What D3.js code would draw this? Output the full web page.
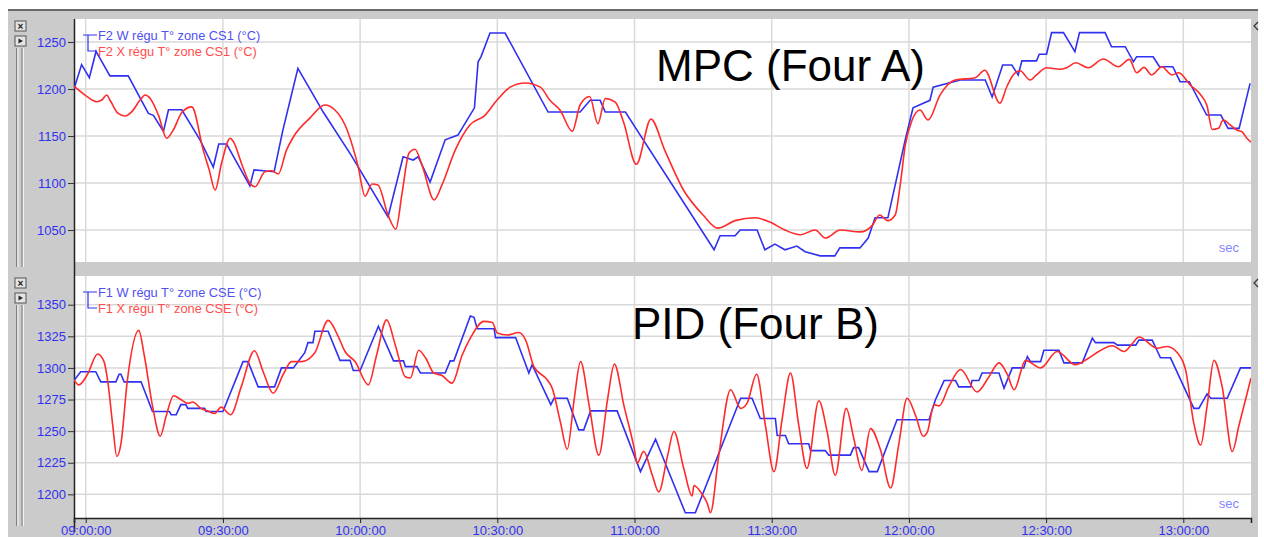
<!DOCTYPE html>
<html>
<head>
<meta charset="utf-8">
<script src="https://cdn.jsdelivr.net/npm/d3@7"></script>
<style>
  body { margin: 0; background: #fff; }
  svg { display: block; font-family: "Liberation Sans", Arial, sans-serif; }
</style>
</head>
<body>
<svg id="chart" width="1264" height="537"></svg>
<script>
// values are [minutes after 09:00, temperature °C]

// MPC (Four A) - setpoint W and measure X
var mpcW = [[-2.56,1200],[-0.9,1226],[0.8,1212],[2.25,1240],[5.3,1214],[9.3,1214],[13.7,1174],[14.8,1172],
  [17.0,1155],[18.1,1178],[21.0,1178],[25.0,1146],[27.9,1117],[29.1,1141.5],[30.8,1141.5],[35.9,1097],
  [36.8,1114],[41.2,1112],[43.1,1156],[46.4,1222],[52,1175],[58,1130],[66.1,1064],[69.4,1128],[71.6,1124.5],
  [72.7,1128],[75.3,1101],[78.6,1146],[81.4,1151],[85.0,1180],[85.8,1229],[86.4,1234],[88.4,1259.6],
  [91.7,1259.6],[101.1,1175.5],[108.1,1175.5],[110.3,1188],[112.5,1188],[113.6,1175.5],[118.0,1175.5],
  [137.4,1029],[138.7,1044],[142.0,1044],[143.1,1050],[146.8,1050],[148.5,1029],[150.7,1035],[152.9,1029],
  [155.5,1033],[157.3,1027],[160.6,1022.5],[163.8,1022.5],[164.9,1031],[169.3,1031],[171.1,1041.5],
  [172.6,1063],[175.4,1063],[179.2,1146],[180.9,1180],[184.6,1188],[185.3,1202],[191.2,1209.6],
  [196.7,1209.6],[198.2,1191.5],[200.5,1225.5],[202.5,1225.5],[203.9,1215],[204.7,1230],[207.9,1230],
  [208.5,1237],[210.1,1237],[211.2,1260],[213.8,1260],[216.3,1239.7],[217.3,1260],[222.9,1260],[224.3,1245],
  [227.3,1245],[229.1,1229],[229.8,1234.4],[233.4,1234.4],[234.8,1223.7],[237.7,1223.7],[239.3,1207.8],
  [241.3,1207.8],[245.1,1172.3],[248.2,1172.3],[249.8,1158.2],[252.2,1158.2],[254.6,1206]];

var mpcX = [[-2.56,1203],[-0.15,1193.6],[2.4,1186.5],[3.5,1188.3],[4.6,1193.6],[5.3,1188.3],[7.1,1174],
  [8.6,1171.3],[10.1,1176],[11.9,1188.3],[13.0,1193.6],[14.1,1190],[15.9,1172.3],[17.7,1147.6],[19.1,1156],
  [21.1,1175.5],[23.2,1181],[25.7,1135],[27.0,1114],[28.3,1092.6],[29.7,1121],[31.6,1147.6],[32.3,1144],
  [34.2,1119],[35.9,1099.7],[37.0,1096],[39.2,1112],[40.7,1113],[42.1,1109.6],[43.9,1135],[45.4,1149],
  [49.0,1169],[52.3,1183],[54.5,1177.7],[56.7,1161.7],[59.5,1119],[61.1,1086],[62.6,1099],[63.9,1098],
  [66.1,1066],[67.8,1051],[69.2,1090],[70.7,1132],[72.0,1136],[73.6,1118],[76.2,1082],[77.9,1098],
  [80.8,1135],[84.0,1161.7],[87.3,1172],[89.9,1188],[92.8,1202],[96.1,1206.4],[99.4,1202],[101.5,1188],
  [103.7,1177.7],[106.4,1155],[108.1,1183],[110.2,1192],[112.0,1163],[113.6,1190],[115.8,1186],
  [117.6,1165],[120.4,1120],[123.6,1168],[126.6,1135],[130.7,1092.6],[135.0,1066],[138.2,1052],[142.0,1060],
  [146.4,1063],[149.6,1058.5],[152.9,1050],[156.3,1045],[159.5,1050],[161.7,1041.5],[165.0,1050],
  [169.3,1048],[172.0,1055],[173.6,1066],[175.4,1060],[177.0,1066],[178.1,1098],[179.2,1140],[180.7,1167],
  [182.4,1177.7],[184.2,1167],[186.8,1193.6],[190.1,1209.6],[194.5,1212],[196.6,1220],[199.9,1185],
  [201.4,1202.4],[202.8,1215],[204.3,1219.5],[206.5,1209.6],[207.9,1215],[210.1,1222.7],[213.0,1221],
  [214.5,1222.7],[216.5,1228],[219.2,1222.7],[222.5,1232],[225.8,1223.7],[228.2,1231.6],[229.8,1217.3],
  [231.4,1223],[233.1,1215],[235.3,1223.7],[237.5,1215],[239.0,1217.3],[241.5,1204.3],[243.7,1194.4],
  [245.2,1182],[246.3,1157],[247.7,1158.2],[248.7,1167],[250.3,1161.7],[251.7,1156.4],[252.8,1154.6],
  [253.9,1147.6],[254.8,1143.6]];

// PID (Four B)
var pidW = [[-2.56,1290],[-1.1,1297],[2.2,1297],[3.3,1289],[6.6,1289],[7.3,1295],[7.7,1295],[8.4,1289],
  [12.1,1289],[14.6,1265.5],[18.3,1265.5],[18.7,1263],[19.8,1263],[20.8,1271],[21.9,1271],[22.3,1268],
  [26.0,1268],[26.3,1265.5],[30.0,1265.5],[34.4,1305],[35.5,1305],[37.7,1285],[41.3,1285],[42.8,1300],
  [45.4,1300],[47.9,1312],[48.6,1320],[49.7,1320],[50.1,1329],[53.0,1329],[55.6,1306],[57.8,1306],
  [58.5,1298],[60.0,1298],[64.0,1333],[67.3,1305.6],[69.5,1305.6],[69.9,1301],[72.4,1301],[73.2,1296],
  [78.6,1296],[79.7,1305.6],[80.5,1305.6],[84.1,1341],[84.9,1340],[85.6,1331],[89.3,1331],[89.6,1324],
  [94.0,1324],[96.9,1296],[97.6,1302.5],[101.7,1271],[102.4,1276],[105.3,1276],[107.8,1251],[108.9,1251],
  [110.4,1266],[116.2,1266],[121.3,1218],[124.6,1243.6],[131.1,1185.5],[133.3,1185.5],[143.2,1276],
  [145.7,1276],[147.5,1260],[150.8,1260],[151.2,1246.5],[153.0,1246.5],[153.7,1240],[158.1,1240],
  [158.5,1234.6],[161.7,1234.6],[162.5,1231],[167.2,1231],[167.9,1237],[169.0,1237],[171.3,1218],
  [173.1,1218],[177.4,1259],[184.4,1259],[185.8,1274.8],[187.7,1290],[190.2,1290],[190.9,1285],[193.5,1285],
  [193.8,1290],[195.3,1290],[196.0,1296],[199.7,1296],[200.8,1284],[202.6,1300],[205.1,1300],[205.9,1309],
  [206.6,1305],[208.8,1305],[209.5,1314],[212.8,1314],[213.9,1304],[217.9,1304],[220.1,1323.6],[220.8,1320],
  [224.8,1320],[225.6,1318],[229.6,1318],[230.3,1322],[233.2,1322],[235.0,1308],[237.2,1308],[242.3,1268],
  [243.4,1268],[245.2,1279.5],[246.0,1276],[249.6,1276],[252.5,1300],[254.8,1300]];

var pidX = [[-2.56,1290.6],[-1.5,1286.6],[0.4,1295],[2.6,1311],[4.0,1305],[4.8,1290],[5.9,1255],[6.8,1230],
  [7.7,1240],[9.1,1290],[11.6,1329.7],[12.8,1310],[14.6,1270],[16.3,1246],[17.6,1262],[19.2,1278],[20.8,1275],
  [22.3,1272],[23.4,1273],[25.2,1268],[26.7,1266],[28.2,1264],[29.6,1269],[31.7,1263],[34.0,1285],
  [36.9,1313.6],[38.8,1297],[41.0,1280],[43.2,1295],[45.0,1305],[47.2,1305],[50.1,1312],[53.0,1337.6],
  [55.2,1325],[56.7,1313],[58.9,1305],[61.8,1286.6],[63.6,1310],[65.8,1338],[67.7,1318],[69.9,1293],
  [71.0,1292],[72.8,1314],[74.3,1308],[76.1,1296],[77.9,1294],[80.1,1288],[82.3,1310],[84.1,1323.6],
  [87.1,1336.8],[88.9,1336],[90.0,1327.6],[92.2,1326],[94.7,1328],[96.2,1322],[98.0,1301],[100.9,1290.6],
  [102.0,1284],[103.8,1257],[105.3,1235.7],[106.8,1275],[108.2,1305],[110.1,1270],[112.2,1231],[114.1,1275],
  [115.6,1303],[117.7,1270],[119.9,1237],[120.6,1224.6],[122.0,1234],[123.9,1215],[125.3,1202],[127.2,1230],
  [128.6,1249.7],[130.8,1220],[132.6,1198.7],[133.0,1207],[134.8,1200],[135.9,1193],[136.6,1185.5],
  [138.4,1230],[141.0,1282.7],[143.2,1268],[144.6,1272],[146.7,1295],[148.6,1255],[150.5,1218],[152.3,1260],
  [154.1,1296],[155.9,1255],[157.7,1220.6],[160.3,1274],[162.1,1250],[163.9,1215],[166.3,1268],[167.9,1245],
  [169.7,1219],[171.6,1252],[173.8,1235],[176.0,1205],[177.8,1240],[179.6,1276],[181.5,1262],[183.1,1246],
  [184.0,1249],[185.5,1271],[186.6,1270],[188.7,1285],[191.3,1298.7],[194.9,1281],[197.5,1293],[199.7,1304],
  [201.5,1295],[203.0,1282.7],[205.5,1306],[208.8,1300],[212.4,1313],[216.4,1302.5],[219.0,1307],[221.5,1313],
  [224.5,1317.5],[227.0,1313],[228.8,1319],[230.3,1324.4],[234.3,1315.6],[236.5,1317],[238.7,1312],
  [240.5,1298.5],[242.3,1256],[243.8,1239],[245.2,1270],[246.7,1306],[248.5,1285],[250.7,1234],[252.2,1255],
  [253.6,1274.8],[254.8,1292]];

var mpcTicks = [1050, 1100, 1150, 1200, 1250];
var pidTicks = [1200, 1225, 1250, 1275, 1300, 1325, 1350];
var timeRange = [-2.56, 254.8];

var svg = d3.select("#chart");
var base = new Date(2000, 0, 1, 9, 0, 0);
var toDate = function(m) { return new Date(base.getTime() + m * 60000); };

var left = 74, right = 1251;
var x = d3.scaleTime()
    .domain(timeRange.map(toDate))
    .range([left, right]);

var blue = "#3030f0", red = "#ff2a2a", grid = "#d9d9d9", frameGray = "#cbcbcb";

// window frame
svg.append("rect").attr("x", 8).attr("y", 10).attr("width", 1250).attr("height", 527).attr("fill", frameGray);
svg.append("line").attr("x1", 8).attr("x2", 1258).attr("y1", 10).attr("y2", 10)
    .attr("stroke", "#6a6a6a").attr("stroke-width", 2);

var panels = [
  { top: 19, bottom: 262, domain: [1016, 1274.5], ticks: mpcTicks, w: mpcW, xs: mpcX,
    title: "MPC (Four A)", tx: 656, ty: 81,
    legW: "F2 W régu T° zone CS1 (°C)", legX: "F2 X régu T° zone CS1 (°C)" },
  { top: 276, bottom: 518, domain: [1181.3, 1372.7], ticks: pidTicks, w: pidW, xs: pidX,
    title: "PID (Four B)", tx: 632, ty: 339,
    legW: "F1 W régu T° zone CSE (°C)", legX: "F1 X régu T° zone CSE (°C)" }
];

panels.forEach(function(p, i) {
  var y = d3.scaleLinear().domain(p.domain).range([p.bottom, p.top]);
  var g = svg.append("g");
  var clipId = "clip" + i;

  svg.append("clipPath").attr("id", clipId).append("rect")
      .attr("x", left).attr("y", p.top).attr("width", right - left).attr("height", p.bottom - p.top);

  g.append("rect").attr("x", left).attr("y", p.top)
      .attr("width", right - left).attr("height", p.bottom - p.top).attr("fill", "#fff");

  // grid
  g.selectAll(".hg").data(p.ticks).enter().append("line")
      .attr("x1", left).attr("x2", right)
      .attr("y1", function(d) { return y(d); }).attr("y2", function(d) { return y(d); })
      .attr("stroke", grid).attr("stroke-width", 1.5);
  g.selectAll(".vg").data(x.ticks(d3.timeMinute.every(30))).enter().append("line")
      .attr("x1", function(d) { return x(d); }).attr("x2", function(d) { return x(d); })
      .attr("y1", p.top).attr("y2", p.bottom)
      .attr("stroke", grid).attr("stroke-width", 1.5);

  // y axis
  var ya = g.append("g").attr("transform", "translate(" + left + ",0)")
      .call(d3.axisLeft(y).tickValues(p.ticks).tickSize(6).tickPadding(2).tickFormat(d3.format("d")));
  ya.select(".domain").attr("d", "M0.5," + p.top + "V" + (p.bottom + 14)).attr("stroke", "#222").attr("stroke-width", 1.5);
  ya.selectAll(".tick line").attr("stroke", "#333");
  ya.selectAll(".tick text").attr("fill", blue).attr("font-size", 13)
      .attr("font-family", "'Liberation Sans', Arial, sans-serif");

  // series
  var lineW = d3.line().x(function(d) { return x(toDate(d[0])); }).y(function(d) { return y(d[1]); });
  var lineX = d3.line().curve(d3.curveMonotoneX)
      .x(function(d) { return x(toDate(d[0])); }).y(function(d) { return y(d[1]); });
  var lines = g.append("g").attr("clip-path", "url(#" + clipId + ")");
  lines.append("path").datum(p.w).attr("d", lineW)
      .attr("fill", "none").attr("stroke", blue).attr("stroke-width", 1.6);
  lines.append("path").datum(p.xs).attr("d", lineX)
      .attr("fill", "none").attr("stroke", red).attr("stroke-width", 1.6);

  // legend
  var ly = p.top + 16;
  g.append("path")
      .attr("d", "M83," + ly + "H97M88," + ly + "V" + (ly + 16) + "H97")
      .attr("fill", "none").attr("stroke", blue).attr("stroke-width", 1.2);
  g.append("text").attr("x", 98).attr("y", ly + 4.5).attr("fill", "#5050f0")
      .attr("font-size", 12.8).text(p.legW);
  g.append("text").attr("x", 98).attr("y", ly + 20.5).attr("fill", "#ff4d4d")
      .attr("font-size", 12.8).text(p.legX);

  // title
  g.append("text").attr("x", p.tx).attr("y", p.ty).attr("fill", "#000")
      .attr("font-size", 44).text(p.title);

  // unit label
  g.append("text").attr("x", 1239).attr("y", p.bottom - 10).attr("text-anchor", "end")
      .attr("fill", "#8585ff").attr("font-size", 13).text("sec");

  // window widgets at left and right
  var by = p.top + 2;
  [0, 1].forEach(function(k) {
    var yy = by + k * 15;
    g.append("rect").attr("x", 15).attr("y", yy).attr("width", 11).attr("height", 10)
        .attr("fill", "#e4e4e4").attr("stroke", "#555").attr("stroke-width", 1);
  });
  g.append("text").attr("x", 20.5).attr("y", by + 8.5).attr("text-anchor", "middle")
      .attr("font-size", 10).attr("font-weight", "bold").attr("fill", "#222").text("×");
  g.append("path").attr("d", "M18.5," + (by + 17.5) + "L23," + (by + 20) + "L18.5," + (by + 22.5) + "Z")
      .attr("fill", "#222");
  var rt = by + 27, rb = p.bottom + (i === 0 ? 5 : 8);
  [16.5, 18, 22, 23.5].forEach(function(xx, k) {
    g.append("line").attr("x1", xx).attr("x2", xx).attr("y1", rt).attr("y2", rb)
        .attr("stroke", k % 2 ? "#f4f4f4" : "#808080").attr("stroke-width", 1);
  });
  g.append("path").attr("d", "M1258," + (p.top + 3) + "L1254," + (p.top + 7) + "L1258," + (p.top + 11))
      .attr("fill", "none").attr("stroke", "#333").attr("stroke-width", 1.2);
});

// time axis under the lower panel
var xa = svg.append("g").attr("transform", "translate(0,518)")
    .call(d3.axisBottom(x).ticks(d3.timeMinute.every(30)).tickSize(5).tickPadding(3)
      .tickFormat(d3.timeFormat("%H:%M:%S")));
xa.select(".domain").attr("stroke", "#222").attr("stroke-width", 1.5);
xa.selectAll(".tick line").attr("stroke", "#222");
xa.selectAll(".tick text").attr("fill", blue).attr("font-size", 13)
    .attr("font-family", "'Liberation Sans', Arial, sans-serif");
</script>
</body>
</html>
